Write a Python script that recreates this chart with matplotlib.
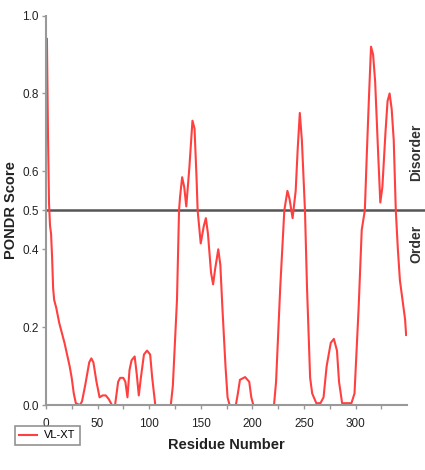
import numpy as np
import matplotlib
matplotlib.use("Agg")
import matplotlib.pyplot as plt

plt.rcParams['font.family'] = ['Liberation Sans Narrow', 'Liberation Sans', 'DejaVu Sans']

# PONDR VL-XT prediction, residue number vs. score
residue = [1, 2, 3, 4, 5, 6, 7, 8, 10, 13, 18, 23, 25, 27, 29, 33, 35, 38, 42, 44,
           46, 49, 52, 55, 58, 61, 64, 67, 70, 72, 75, 77, 79, 81, 83, 86, 88, 90,
           92, 95, 98, 101, 103, 106, 121, 123, 127, 129, 130, 132, 134, 136, 139,
           142, 144, 146, 147, 150, 153, 155, 157, 160, 162, 164, 167, 169, 171,
           174, 176, 178, 184, 186, 188, 193, 197, 199, 201, 221, 223, 227, 231,
           234, 236, 239, 242, 244, 246, 248, 251, 253, 256, 258, 262, 266, 269,
           272, 276, 279, 282, 284, 287, 296, 299, 303, 306, 309, 311, 313, 315,
           317, 319, 322, 324, 326, 329, 331, 333, 335, 337, 339, 341, 343, 346,
           348, 349]
score = [0.94, 0.70, 0.52, 0.46, 0.44, 0.38, 0.30, 0.27, 0.25, 0.21, 0.16, 0.10,
         0.07, 0.03, 0.005, 0.0, 0.01, 0.05, 0.11, 0.12, 0.11, 0.06, 0.02, 0.025,
         0.025, 0.015, 0.0, 0.0, 0.06, 0.07, 0.07, 0.06, 0.02, 0.09, 0.115, 0.125,
         0.08, 0.025, 0.07, 0.13, 0.14, 0.13, 0.07, 0.0, 0.0, 0.05, 0.27, 0.50,
         0.535, 0.585, 0.56, 0.51, 0.61, 0.73, 0.71, 0.58, 0.50, 0.415, 0.46, 0.48,
         0.44, 0.34, 0.31, 0.35, 0.40, 0.36, 0.25, 0.10, 0.02, 0.0, 0.0, 0.03,
         0.065, 0.072, 0.06, 0.02, 0.0, 0.0, 0.06, 0.30, 0.50, 0.55, 0.53, 0.48,
         0.55, 0.66, 0.75, 0.68, 0.50, 0.30, 0.07, 0.03, 0.005, 0.005, 0.02, 0.10,
         0.16, 0.17, 0.14, 0.06, 0.005, 0.005, 0.03, 0.25, 0.45, 0.50, 0.65, 0.79,
         0.92, 0.90, 0.83, 0.64, 0.52, 0.56, 0.70, 0.78, 0.80, 0.76, 0.68, 0.50,
         0.40, 0.32, 0.26, 0.22, 0.18]

xticks = [0, 50, 100, 150, 200, 250, 300]
yticks = [0.0, 0.2, 0.4, 0.5, 0.6, 0.8, 1.0]
cutoff = 0.5

fig = plt.figure(figsize=(4.25, 4.70), dpi=100)
ax = fig.add_axes([0.108, 0.138, 0.850, 0.829])

ax.plot(residue, score, color='#ff4040', lw=1.5, label='VL-XT')

# threshold line runs past the plot edge
ax.plot([0, 1.12], [cutoff, cutoff], color='#555555', lw=1.8,
        transform=ax.get_yaxis_transform(), clip_on=False, zorder=1)

ax.set_xlim(0, 350)
ax.set_ylim(0, 1.0)
ax.set_xticks(xticks)
ax.set_xticks(np.arange(25, 350, 50), minor=True)
ax.set_yticks(yticks)
ax.set_yticklabels(['%.1f' % t for t in yticks])

for s in ['top', 'right']:
    ax.spines[s].set_visible(False)
for s in ['left', 'bottom']:
    ax.spines[s].set_color('#999999')
    ax.spines[s].set_linewidth(1.5)

ax.tick_params(axis='both', which='both', colors='#999999', labelcolor='#222222',
               labelsize=8.5, length=3, width=1)
ax.tick_params(axis='x', pad=6)
ax.tick_params(axis='y', pad=2)

ax.set_xlabel('Residue Number', fontsize=10.5, fontweight='bold', color='#222222', labelpad=6)
ax.set_ylabel('PONDR Score', fontsize=10.5, fontweight='bold', color='#222222', labelpad=3)

fig.text(416 / 425, 1 - 152 / 470, 'Disorder', rotation=90, ha='center', va='center',
         fontsize=10, fontweight='bold', color='#333333')
fig.text(416 / 425, 1 - 244 / 470, 'Order', rotation=90, ha='center', va='center',
         fontsize=10, fontweight='bold', color='#333333')

leg = fig.legend(loc='upper left', bbox_to_anchor=(15 / 425, 1 - 426 / 470),
                 fontsize=8, frameon=True, fancybox=False, handlelength=1.6,
                 borderpad=0.4, handletextpad=0.6, borderaxespad=0)
leg.get_frame().set_edgecolor('#777777')
leg.get_frame().set_linewidth(1.2)

fig.savefig('out.png', dpi=100)
